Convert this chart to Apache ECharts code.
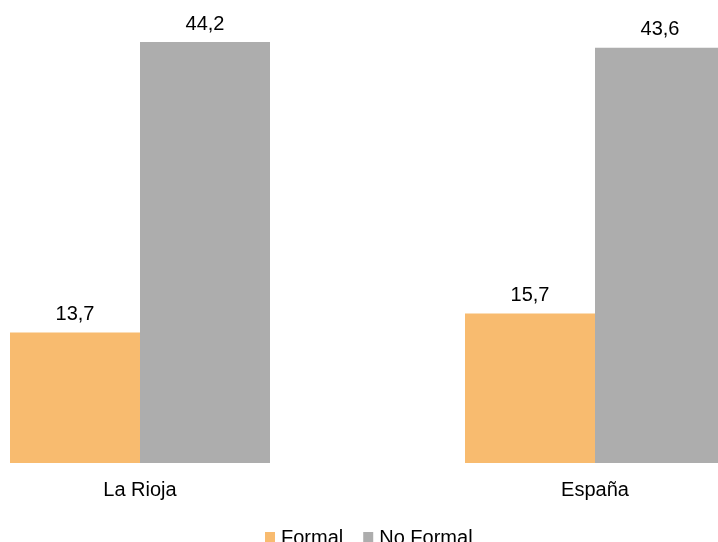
<!DOCTYPE html>
<html>
<head>
<meta charset="utf-8">
<script src="https://cdn.jsdelivr.net/npm/echarts@6/dist/echarts.min.js"></script>
<style>
html,body{margin:0;padding:0;background:#fff;overflow:hidden;width:718px;height:542px;position:relative;}
#chart{position:absolute;left:-100px;top:-20px;width:1000px;height:600px;}
</style>
</head>
<body>
<div id="chart"></div>
<script>
const categories = ['La Rioja', 'España'];
const formal = [13.7, 15.7];
const noFormal = [44.2, 43.6];
const seriesNames = ['Formal', 'No Formal'];

const fmt = p => String(p.value).replace('.', ',');
const font = 'Liberation Sans, Arial, sans-serif';

const chart = echarts.init(document.getElementById('chart'), null, {renderer: 'canvas'});
chart.setOption({
  animation: false,
  backgroundColor: '#ffffff',
  textStyle: {fontFamily: font},
  grid: {left: 12.5, right: 77.5, top: 6.8, bottom: 117, containLabel: false},
  legend: {
    data: seriesNames,
    top: 543,
    left: 360,
    itemWidth: 10,
    itemHeight: 12,
    itemGap: 20,
    icon: 'rect',
    textStyle: {fontSize: 20, color: '#000', fontFamily: font, padding: [0, 0, 0, 1]}
  },
  xAxis: {
    type: 'category',
    data: categories,
    axisLine: {show: false},
    axisTick: {show: false},
    axisLabel: {fontSize: 20, color: '#000', margin: 17, fontFamily: font}
  },
  yAxis: {
    type: 'value',
    min: 0,
    max: 50,
    show: false,
    splitLine: {show: false}
  },
  series: [
    {
      name: seriesNames[0],
      type: 'bar',
      data: formal,
      barWidth: 130,
      barGap: '0%',
      itemStyle: {color: '#F8BB6F'},
      label: {show: true, position: 'top', distance: 8, fontSize: 20, color: '#000', fontFamily: font, formatter: fmt}
    },
    {
      name: seriesNames[1],
      type: 'bar',
      data: noFormal,
      barWidth: 130,
      barGap: '0%',
      itemStyle: {color: '#ADADAD'},
      label: {show: true, position: 'top', distance: 8, fontSize: 20, color: '#000', fontFamily: font, formatter: fmt}
    }
  ]
});
</script>
</body>
</html>
